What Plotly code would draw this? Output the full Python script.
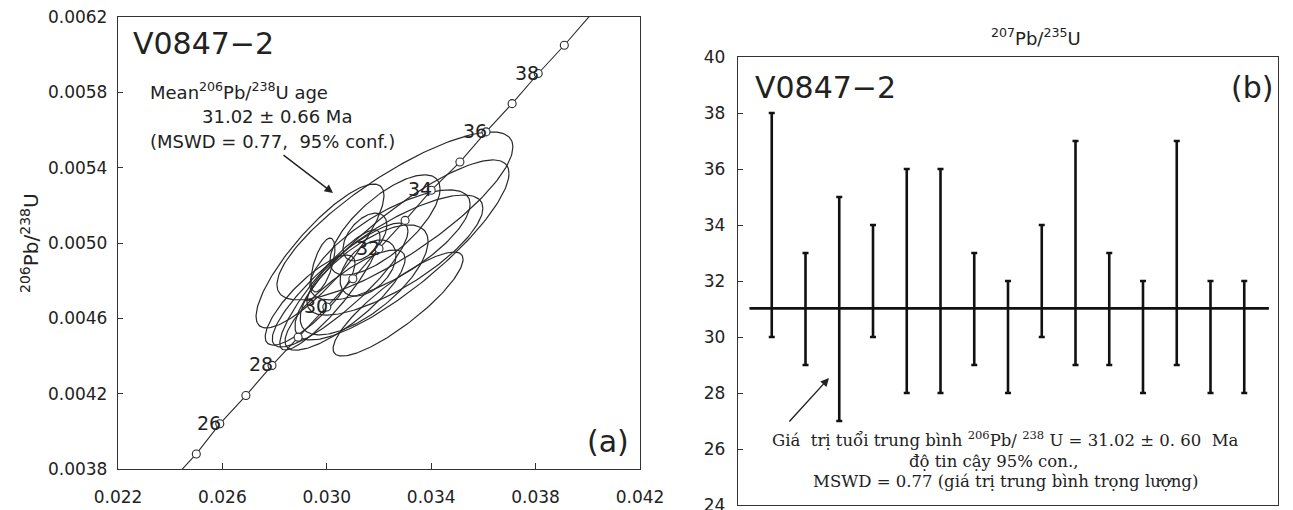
import numpy as np
import plotly.graph_objects as go

# ---------------- data ----------------
# Concordia reference points (age in Ma, 207Pb/235U, 206Pb/238U)
conc_age = [24, 25, 26, 27, 28, 29, 30, 31, 32, 33, 34, 35, 36, 37, 38, 39, 40]
conc_207 = [0.0240, 0.0250, 0.0259, 0.0269, 0.0279, 0.0289, 0.0300, 0.0310, 0.0320,
            0.0330, 0.0340, 0.0351, 0.0361, 0.0371, 0.0381, 0.0391, 0.0401]
conc_206 = [0.00373, 0.00388, 0.00404, 0.00419, 0.00435, 0.00450, 0.00466, 0.00481,
            0.00497, 0.00512, 0.00528, 0.00543, 0.00559, 0.00574, 0.00590, 0.00605, 0.00621]
marker_ages = [25, 26, 27, 28, 29, 30, 31, 32, 33, 34, 35, 36, 37, 38, 39]
label_ages = [26, 28, 30, 32, 34, 36, 38]

# Analyses: ratios, 2-sigma errors, error correlation
ell_207 = [0.02974, 0.03261, 0.03288, 0.03273, 0.03143, 0.03158, 0.03146, 0.02985,
           0.03051, 0.03012, 0.03070, 0.02936, 0.03261, 0.03242, 0.03223]
ell_206 = [0.004931, 0.005144, 0.004963, 0.004676, 0.004804, 0.004867, 0.005032, 0.004883,
           0.004777, 0.004751, 0.004697, 0.004697, 0.004936, 0.004990, 0.005096]
err_207 = [0.00245, 0.00452, 0.00410, 0.00249, 0.00245, 0.00107, 0.00084, 0.00046,
           0.00260, 0.00192, 0.00230, 0.00172, 0.00337, 0.00307, 0.00211]
err_206 = [0.000382, 0.000446, 0.000478, 0.000276, 0.000292, 0.000149, 0.000127, 0.000143,
           0.000329, 0.000319, 0.000266, 0.000239, 0.000319, 0.000292, 0.000266]
rho = [0.84, 0.82, 0.85, 0.86, 0.70, 0.45, 0.50, 0.60, 0.87, 0.89, 0.82, 0.82, 0.78, 0.74, 0.72]

# Weighted mean panel: spot number, age ranges (Ma)
spots = list(range(1, 16))
age_hi = [38, 33, 35, 34, 36, 36, 33, 32, 34, 37, 33, 32, 37, 32, 32]
age_lo = [30, 29, 27, 30, 28, 28, 29, 28, 30, 29, 29, 28, 29, 28, 28]
mean_age = 31.02
mean_span = [0.34, 15.73]

# ---------------- figure ----------------
OFF = 8                     # page body margin in the browser
W, H = 1293 - OFF, 510 - OFF
SANS = "DejaVu Sans"
SERIF = "DejaVu Serif"
LC = "#2a2a2a"


def fx(x):   # window pixel -> paper x
    return (x - OFF) / W


def fy(y):   # window pixel -> paper y
    return (H - (y - OFF)) / H


fig = go.Figure()

t = np.linspace(0, 2 * np.pi, 181)
for cx, cy, sx, sy, r in zip(ell_207, ell_206, err_207, err_206, rho):
    ex = cx + sx * np.cos(t)
    ey = cy + sy * (r * np.cos(t) + np.sqrt(1 - r * r) * np.sin(t))
    fig.add_trace(go.Scatter(x=ex, y=ey, mode="lines", line=dict(color=LC, width=1.2),
                             hoverinfo="skip", xaxis="x", yaxis="y"))

# concordia
fig.add_trace(go.Scatter(x=conc_207, y=conc_206, mode="lines", line=dict(color=LC, width=1.1),
                         xaxis="x", yaxis="y"))
mi = [conc_age.index(a) for a in marker_ages]
fig.add_trace(go.Scatter(x=[conc_207[i] for i in mi], y=[conc_206[i] for i in mi], mode="markers",
                         marker=dict(symbol="circle", size=8, color="white",
                                     line=dict(color=LC, width=1.1)),
                         xaxis="x", yaxis="y"))

# error bars panel
mid = [(h + l) / 2 for h, l in zip(age_hi, age_lo)]
fig.add_trace(go.Scatter(
    x=spots, y=mid, mode="markers", marker=dict(size=1, color="rgba(0,0,0,0)"),
    error_y=dict(type="data", symmetric=False,
                 array=[h - m for h, m in zip(age_hi, mid)],
                 arrayminus=[m - l for m, l in zip(mid, age_lo)],
                 color="#111", thickness=2.6, width=3),
    xaxis="x2", yaxis="y2"))
fig.add_trace(go.Scatter(x=mean_span, y=[mean_age, mean_age], mode="lines",
                         line=dict(color="#111", width=2.8), xaxis="x2", yaxis="y2"))

axis_common = dict(showline=True, linecolor="#333", linewidth=1.4, mirror=True,
                   showgrid=False, zeroline=False, ticks="inside", tickcolor="#333",
                   automargin=False, ticklabeloverflow="allow")

fig.update_layout(
    width=W, height=H, margin=dict(l=0, r=0, t=0, b=0, autoexpand=False),
    paper_bgcolor="white", plot_bgcolor="white", showlegend=False,
    xaxis=dict(domain=[fx(118), fx(640)], range=[0.022, 0.042], tick0=0.022, dtick=0.004,
               tickformat=".3f", ticklen=6, tickwidth=1.2, ticklabelstandoff=12,
               tickfont=dict(family=SANS, size=17, color="#222"), **axis_common),
    yaxis=dict(domain=[fy(469), fy(17)], range=[0.0038, 0.0062], tick0=0.0038,
               dtick=0.0004, tickformat=".4f", ticklen=5, tickwidth=1.2, ticklabelstandoff=6,
               tickfont=dict(family=SANS, size=17, color="#222"), **axis_common),
    xaxis2=dict(domain=[fx(738), fx(1278)], range=[0, 16], showticklabels=False,
                showline=True, linecolor="#333", linewidth=1.4, mirror=True,
                showgrid=False, zeroline=False, ticks="", automargin=False, anchor="y2"),
    yaxis2=dict(domain=[fy(505), fy(57)], range=[24, 40], dtick=2, ticklen=5, tickwidth=1.2,
                ticklabelstandoff=8, tickfont=dict(family=SANS, size=17, color="#222"),
                anchor="x2", **axis_common),
)

ann = []
# concordia age labels
for a in label_ages:
    i = conc_age.index(a)
    ann.append(dict(x=conc_207[i], y=conc_206[i], xref="x", yref="y", text=str(a),
                    xanchor="right", yanchor="middle", xshift=3, yshift=1, showarrow=False,
                    font=dict(family=SANS, size=19, color="#222")))


def txt(x, y, text, size, family=SANS, xanchor="left", angle=0):
    ann.append(dict(x=fx(x), y=fy(y), xref="paper", yref="paper", text=text, showarrow=False,
                    xanchor=xanchor, yanchor="middle", textangle=angle,
                    font=dict(family=family, size=size, color="#222")))


txt(131, 43, "V0847\u22122", 30)
txt(148, 91, "Mean<sup>206</sup>Pb/<sup>238</sup>U age", 18)
txt(277, 116, "31.02 ± 0.66 Ma", 18, xanchor="center")
txt(148, 141, "(MSWD = 0.77,\u00a0 95% conf.)", 18)
txt(608, 441, "(a)", 30, xanchor="center")
txt(30, 243, "<sup>206</sup>Pb/<sup>238</sup>U", 20, xanchor="center", angle=-90)

txt(1036, 37, "<sup>207</sup>Pb/<sup>235</sup>U", 18, xanchor="center")
txt(753, 88, "V0847\u22122", 30)
txt(1252, 88, "(b)", 30, xanchor="center")
txt(1005, 439, "Giá\u00a0 trị tuổi trung bình <sup>206</sup>Pb/ <sup>238</sup> U = 31.02 ± 0. 60\u00a0 Ma",
    16.5, family=SERIF, xanchor="center")
txt(993, 461, "độ tin cậy 95% con.,", 16.5, family=SERIF, xanchor="center")
txt(1005, 481, "MSWD = 0.77 (giá trị trung bình trọng lượng)", 16.5, family=SERIF, xanchor="center")

# arrows
for (hx, hy, tx, ty) in [(333, 193, 282, 154), (829, 378, 788, 423)]:
    ann.append(dict(x=fx(hx), y=fy(hy), xref="paper", yref="paper", text="", showarrow=True,
                    ax=tx - hx, ay=ty - hy, arrowhead=2, arrowsize=1.2, arrowwidth=1.4,
                    arrowcolor="#222"))

fig.update_layout(annotations=ann)
fig.write_html("out.html")
